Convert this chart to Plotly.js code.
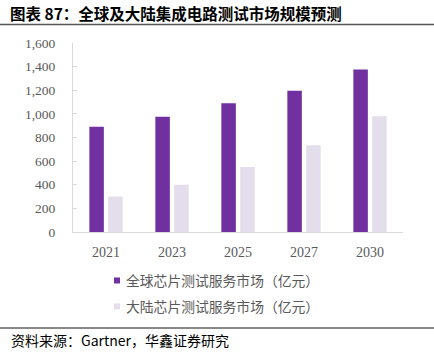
<!DOCTYPE html>
<html>
<head>
<meta charset="utf-8">
<script src="https://cdn.plot.ly/plotly-3.0.1.min.js"></script>
<style>
html,body{margin:0;padding:0;background:#fff;}
#chart{width:434px;height:355px;}
</style>
</head>
<body>
<div id="chart"></div>
<script>
const years = ['2021', '2023', '2025', '2027', '2030'];
const globalTest = [890, 975, 1090, 1195, 1375];
const chinaTest = [300, 400, 550, 735, 980];
const seriesNames = ['全球芯片测试服务市场（亿元）', '大陆芯片测试服务市场（亿元）'];
const titleText = '图表 87：全球及大陆集成电路测试市场规模预测';
const sourceText = '资料来源：Gartner，华鑫证券研究';

const W = 434, H = 355;
const mL = 73, mR = 31, mT = 43, mB = 123;
const pw = W - mL - mR, ph = H - mT - mB;
const px = x => (x - mL) / pw;
const py = y => (H - mB - y) / ph;

const traces = [
  {type: 'bar', x: years, y: globalTest, name: seriesNames[0], legendgroup: 'a',
   marker: {color: '#7030A0'}, hoverinfo: 'skip'},
  {type: 'bar', x: years, y: chinaTest, name: seriesNames[1], legendgroup: 'b',
   marker: {color: '#E4DDEC'}, hoverinfo: 'skip'}
];

const layout = {
  width: W, height: H,
  margin: {l: mL, r: mR, t: mT, b: mB},
  paper_bgcolor: '#fff', plot_bgcolor: '#fff',
  barmode: 'group', bargap: 0.43, bargroupgap: 0.23,
  title: {text: titleText, x: 0.023, xanchor: 'left', xref: 'container',
          y: 1 - 15 / H, yanchor: 'middle', yref: 'container',
          font: {family: '"Noto Sans CJK SC", sans-serif', size: 15.5, color: '#000', weight: 'bold'}},
  xaxis: {type: 'category', showline: true, linecolor: '#D9D9D9', linewidth: 1,
          ticks: '', showgrid: false, zeroline: false, ticklabelstandoff: 7,
          tickfont: {family: '"Liberation Serif", "Times New Roman", serif', size: 14, color: '#595959'}},
  yaxis: {range: [0, 1600], dtick: 200, tickformat: ',d', showline: true, linecolor: '#D9D9D9',
          linewidth: 1, ticks: 'inside', ticklen: 4, tickcolor: '#D9D9D9', showgrid: false,
          zeroline: false, ticklabelstandoff: 14,
          tickfont: {family: '"Liberation Serif", "Times New Roman", serif', size: 13.5, color: '#595959'}},
  showlegend: true,
  legend: {orientation: 'v', x: px(86), xanchor: 'left', y: py(265), yanchor: 'top',
           traceorder: 'grouped', tracegroupgap: 5, bgcolor: 'rgba(0,0,0,0)',
           font: {family: '"Noto Sans CJK SC", sans-serif', size: 13.8, color: '#595959'}},
  shapes: [
    {type: 'line', xref: 'paper', yref: 'paper', x0: px(0), x1: px(W), y0: py(24.5), y1: py(24.5),
     line: {color: '#555555', width: 1.5}},
    {type: 'line', xref: 'paper', yref: 'paper', x0: px(0), x1: px(W), y0: py(328), y1: py(328),
     line: {color: '#888888', width: 2}}
  ],
  annotations: [
    {text: sourceText, xref: 'paper', yref: 'paper', x: px(9), y: py(340), xanchor: 'left', yanchor: 'middle',
     showarrow: false, font: {family: '"Noto Sans CJK SC", sans-serif', size: 14, color: '#000'}}
  ]
};

Plotly.newPlot('chart', traces, layout, {staticPlot: true, displayModeBar: false}).then(gd => {
  gd.querySelectorAll('.legend .legendpoints path').forEach(p => {
    p.setAttribute('transform', 'translate(31,0) scale(0.5)');
  });
});
</script>
</body>
</html>
